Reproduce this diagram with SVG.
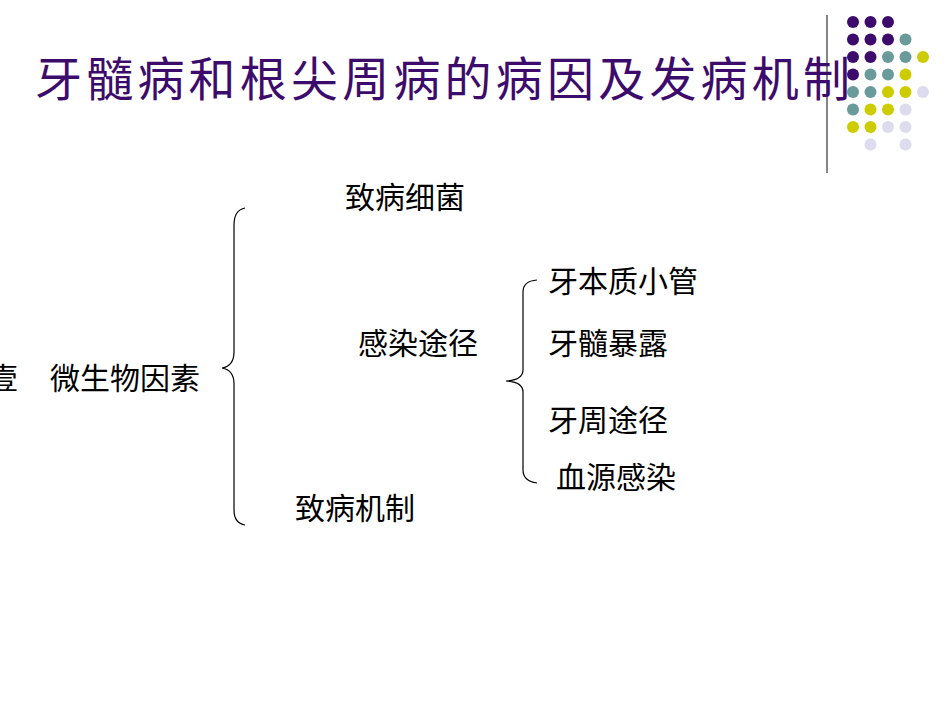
<svg xmlns="http://www.w3.org/2000/svg" width="950" height="713" viewBox="0 0 950 713">
<style>
.t{font-family:"Liberation Serif","Noto Sans CJK SC",serif;font-size:30px;fill:#000}
.h{font-family:"Liberation Serif","Noto Sans CJK SC",serif;font-size:47px;fill:#3d0b6b}
.b{fill:none;stroke:#000;stroke-width:1.2}
.p{fill:#3d0b6b}.q{fill:#6a9a9a}.y{fill:#cccc00}.l{fill:#dcdcee}
</style>
<rect width="950" height="713" fill="#fff"/>
<g id="deco">
<line x1="827" y1="15" x2="827" y2="173" stroke="#333" stroke-width="1.2"/>
<g>
<circle class="p" cx="853" cy="22" r="6"/><circle class="p" cx="870.5" cy="22" r="6"/><circle class="p" cx="888" cy="22" r="6"/>
<circle class="p" cx="853" cy="39.5" r="6"/><circle class="p" cx="870.5" cy="39.5" r="6"/><circle class="p" cx="888" cy="39.5" r="6"/><circle class="q" cx="905.5" cy="39.5" r="6"/>
<circle class="p" cx="853" cy="57" r="6"/><circle class="p" cx="870.5" cy="57" r="6"/><circle class="q" cx="888" cy="57" r="6"/><circle class="q" cx="905.5" cy="57" r="6"/><circle class="y" cx="923" cy="57" r="6"/>
<circle class="p" cx="853" cy="74.5" r="6"/><circle class="q" cx="870.5" cy="74.5" r="6"/><circle class="q" cx="888" cy="74.5" r="6"/><circle class="y" cx="905.5" cy="74.5" r="6"/>
<circle class="q" cx="853" cy="92" r="6"/><circle class="q" cx="870.5" cy="92" r="6"/><circle class="y" cx="888" cy="92" r="6"/><circle class="y" cx="905.5" cy="92" r="6"/><circle class="l" cx="923" cy="92" r="6"/>
<circle class="q" cx="853" cy="109.5" r="6"/><circle class="y" cx="870.5" cy="109.5" r="6"/><circle class="y" cx="888" cy="109.5" r="6"/><circle class="l" cx="905.5" cy="109.5" r="6"/>
<circle class="y" cx="853" cy="127" r="6"/><circle class="y" cx="870.5" cy="127" r="6"/><circle class="l" cx="888" cy="127" r="6"/><circle class="l" cx="905.5" cy="127" r="6"/>
<circle class="l" cx="870.5" cy="144.5" r="6"/><circle class="l" cx="905.5" cy="144.5" r="6"/>
</g>
</g>
<g id="title"><text class="h" x="35" y="96" textLength="815">牙髓病和根尖周病的病因及发病机制</text></g>
<g id="connectors">
<path class="b" d="M245,208 Q234,210 234,225 L234,352 Q234,366 222,368 Q234,370 234,384 L234,510 Q234,523 245,525"/>
<path class="b" d="M537,280 Q523,281 523,292 L523,370 Q523,380 506,381 Q523,382 523,392 L523,470 Q523,481 537,483"/>
</g>
<g id="root"><text class="t" x="-12" y="389">壹</text><text class="t" x="50" y="389">微生物因素</text></g>
<g id="n1"><text class="t" x="345" y="208">致病细菌</text></g>
<g id="n2"><text class="t" x="358" y="354">感染途径</text></g>
<g id="n3"><text class="t" x="295" y="519">致病机制</text></g>
<g id="n4"><text class="t" x="548" y="292">牙本质小管</text></g>
<g id="n5"><text class="t" x="548" y="354">牙髓暴露</text></g>
<g id="n6"><text class="t" x="548" y="431">牙周途径</text></g>
<g id="n7"><text class="t" x="556" y="488">血源感染</text></g>
</svg>
